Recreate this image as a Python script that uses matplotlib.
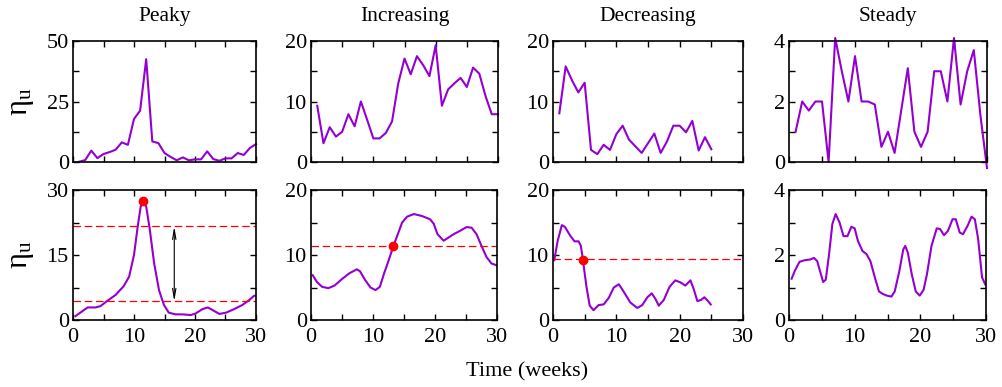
import numpy as np
import matplotlib
matplotlib.use("Agg")
import matplotlib.pyplot as plt
from matplotlib.ticker import MultipleLocator

plt.rcParams['font.family'] = ['Liberation Serif', 'DejaVu Serif']
plt.rcParams['mathtext.fontset'] = 'custom'
plt.rcParams['mathtext.rm'] = 'Liberation Serif'
plt.rcParams['mathtext.it'] = 'Liberation Serif'

# ---------------- data ----------------
titles = ["Peaky", "Increasing", "Decreasing", "Steady"]

weeks30 = list(range(1, 31))
weeks25 = list(range(1, 26))

peaky_raw = [0.1, 0.8, 4.7, 1.6, 3.3, 4.1, 5.1, 8.1, 7.1, 17.8, 21.2, 42.5, 8.5, 7.8,
             3.7, 2.1, 0.7, 1.9, 0.7, 1.1, 1.1, 4.4, 1.2, 0.5, 1.5, 1.5, 3.7, 2.9, 5.8, 7.4]
incr_raw = [9.3, 3.1, 5.75, 4.2, 5.0, 7.9, 5.9, 10.0, 7.0, 3.9, 3.9, 4.8, 6.7, 13.0,
            17.1, 14.5, 17.5, 16.0, 14.2, 19.3, 9.3, 12.0, 13.0, 13.9, 12.4, 15.6, 14.6,
            10.9, 7.9, 7.9]
decr_raw = [8.05, 15.8, 13.5, 11.5, 13.1, 2.0, 1.3, 2.85, 2.0, 4.6, 6.0, 3.7, 2.6, 1.5,
            3.1, 4.7, 1.5, 3.4, 6.0, 6.0, 4.9, 6.8, 1.9, 4.1, 2.1]
steady_raw = [1.0, 2.0, 1.7, 2.0, 2.0, 0.0, 4.1, 3.0, 2.0, 3.5, 2.0, 2.0, 1.9, 0.5, 1.0,
              0.3, 1.7, 3.1, 1.0, 0.5, 1.0, 3.0, 3.0, 2.0, 4.1, 1.9, 3.0, 3.7, 1.55, -0.2]

peaky_t = [0.4, 1.2, 2.4, 3.7, 4.5, 5.6, 7.0, 8.3, 9.2, 10.0, 10.6, 11.1, 11.5, 12.0,
           12.6, 13.3, 14.1, 14.9, 15.7, 16.8, 17.9, 19.3, 20.1, 21.2, 22.1, 23.0, 24.0,
           25.1, 26.4, 27.8, 28.9, 29.7, 30.0]
peaky_s = [0.9, 1.7, 2.9, 2.9, 3.2, 4.4, 5.8, 7.8, 10.0, 15.0, 21.5, 26.2, 27.3, 26.2,
           20.8, 13.1, 6.9, 3.5, 1.7, 1.3, 1.3, 1.15, 1.5, 2.5, 2.9, 2.2, 1.4,
           1.7, 2.5, 3.5, 4.6, 5.6, 5.6]

incr_t = [0.27, 1.0, 1.8, 2.8, 3.8, 5.0, 6.2, 7.4, 7.9, 8.7, 9.6, 10.4, 11.1, 11.8,
          12.5, 13.3, 14.0, 14.7, 15.5, 16.6, 17.9, 19.2, 19.8, 20.4, 21.4, 22.2, 23.0,
          24.0, 25.1, 25.9, 26.7, 27.5, 28.3, 29.1, 30.0]
incr_s = [6.9, 5.8, 5.1, 4.9, 5.3, 6.3, 7.2, 7.8, 7.5, 6.2, 5.0, 4.6, 5.1, 7.2,
          9.1, 11.4, 13.2, 15.0, 15.9, 16.3, 16.0, 15.5, 14.8, 13.2, 12.2, 12.7, 13.2,
          13.7, 14.3, 14.2, 13.2, 11.4, 9.7, 8.7, 8.4]

decr_t = [0.2, 0.74, 1.4, 1.9, 2.7, 3.4, 4.05, 4.4, 4.7, 5.3, 5.8, 6.4, 7.2, 8.0, 8.8,
          9.6, 10.4, 11.2, 12.2, 13.3, 14.1, 14.9, 15.6, 16.2, 16.7, 17.5, 18.4, 19.3,
          20.1, 20.9, 21.7, 22.2, 22.8, 23.4, 23.9, 24.4, 24.9]
decr_s = [9.2, 12.2, 14.6, 14.3, 13.0, 12.1, 12.1, 11.4, 9.4, 5.0, 2.2, 1.5, 2.3, 2.4, 3.4,
          5.0, 5.5, 4.3, 2.7, 1.85, 2.3, 3.5, 4.1, 3.2, 2.2, 3.1, 5.1, 6.1,
          5.8, 5.3, 6.1, 4.8, 2.9, 3.1, 3.5, 3.0, 2.4]

steady_t = [0.4, 0.9, 1.6, 2.4, 3.2, 3.8, 4.3, 4.8, 5.2, 5.6, 6.1, 6.6, 7.1, 7.7, 8.3,
            8.9, 9.5, 10.0, 10.5, 11.2, 11.8, 12.4, 13.1, 13.7, 14.3, 14.9, 15.6, 16.1,
            16.8, 17.4, 17.7, 18.1, 18.7, 19.3, 19.9, 20.5, 21.0, 21.7, 22.5, 23.0,
            23.6, 24.2, 24.9, 25.4, 26.0, 26.5, 27.2, 27.8, 28.3, 28.8, 29.4, 29.9]
steady_s = [1.27, 1.52, 1.79, 1.84, 1.86, 1.91, 1.81, 1.45, 1.17, 1.24, 2.02, 2.95, 3.26,
            3.0, 2.58, 2.58, 2.87, 2.82, 2.43, 2.12, 2.03, 1.81, 1.29, 0.88, 0.80, 0.75,
            0.72, 0.88, 1.5, 2.17, 2.28, 2.07, 1.4, 0.88, 0.75, 0.93, 1.4, 2.28, 2.82,
            2.8, 2.61, 2.74, 3.1, 3.1, 2.69, 2.64, 2.9, 3.18, 3.1, 2.5, 1.31, 1.09]

# annotations
peaky_peak = (11.5, 27.5)
peaky_hi, peaky_lo = 21.6, 4.3
peaky_arrow_x = 16.6
incr_thr = 11.4
incr_cross = (13.3, 11.4)
decr_thr = 9.4
decr_cross = (4.75, 9.3)

ylims = [50, 20, 20, 4]
ymajor_top = [25, 10, 10, 2]
ylims_bot = [30, 20, 20, 4]
ymajor_bot = [15, 10, 10, 2]

# ---------------- layout ----------------
W, H = 1002, 387
fig = plt.figure(figsize=(W / 100, H / 100), dpi=100)

xpix_top = [(73, 256), (311, 498), (553, 743), (789, 987)]
xpix_bot = [(73, 256), (311, 497), (553, 743), (789, 986)]
ytop = (41, 162)
ybot = (190, 320)

def mkax(xp, yp):
    return fig.add_axes([xp[0] / W, 1 - yp[1] / H, (xp[1] - xp[0]) / W, (yp[1] - yp[0]) / H])

purple = '#9400D3'
FS = 16

def style(ax, ymax, ymaj, xlabels):
    ax.set_xlim(0, 30)
    ax.set_ylim(0, ymax)
    ax.xaxis.set_major_locator(MultipleLocator(10))
    ax.xaxis.set_minor_locator(MultipleLocator(5))
    ax.yaxis.set_major_locator(MultipleLocator(ymaj))
    ax.yaxis.set_minor_locator(MultipleLocator(ymaj / 2))
    ax.tick_params(which='both', direction='in', top=True, right=True, length=4, width=1)
    ax.tick_params(axis='y', labelsize=FS, pad=3)
    ax.tick_params(axis='x', labelsize=FS, pad=6, labelbottom=xlabels)
    for s in ax.spines.values():
        s.set_linewidth(1.2)

top_data = [(weeks30, peaky_raw), (weeks30, incr_raw), (weeks25, decr_raw), (weeks30, steady_raw)]
bot_data = [(peaky_t, peaky_s), (incr_t, incr_s), (decr_t, decr_s), (steady_t, steady_s)]

for i in range(4):
    ax = mkax(xpix_top[i], ytop)
    t, v = top_data[i]
    ax.plot(t, v, color=purple, lw=1.5, clip_on=False)
    style(ax, ylims[i], ymajor_top[i], False)
    cx = (xpix_top[i][0] + xpix_top[i][1]) / 2 / W
    fig.text(cx, 1 - 21 / H, titles[i], ha='center', va='baseline', fontsize=15.5)

    axb = mkax(xpix_bot[i], ybot)
    t, v = bot_data[i]
    axb.plot(t, v, color=purple, lw=1.5)
    style(axb, ylims_bot[i], ymajor_bot[i], True)

    if i == 0:
        for y in (peaky_hi, peaky_lo):
            axb.axhline(y, color='red', lw=0.9, dashes=(6, 3))
        axb.plot(*peaky_peak, 'o', color='red', ms=6, clip_on=False, zorder=5)
        axb.annotate('', xy=(peaky_arrow_x, peaky_lo), xytext=(peaky_arrow_x, peaky_hi),
                     arrowprops=dict(arrowstyle='<->,head_length=0.7,head_width=0.12',
                                     lw=0.8, color='black', shrinkA=0, shrinkB=0))
    elif i == 1:
        axb.axhline(incr_thr, color='red', lw=0.9, dashes=(6, 3))
        axb.plot(*incr_cross, 'o', color='red', ms=6, zorder=5)
    elif i == 2:
        axb.axhline(decr_thr, color='red', lw=0.9, dashes=(6, 3))
        axb.plot(*decr_cross, 'o', color='red', ms=6, zorder=5)

ylab = r'$\mathrm{\eta_u}$'
fig.text(22 / W, 1 - 102 / H, ylab, rotation=90, ha='center', va='center', fontsize=22)
fig.text(22 / W, 1 - 255 / H, ylab, rotation=90, ha='center', va='center', fontsize=22)
fig.text(527 / W, 1 - 376 / H, 'Time (weeks)', ha='center', va='baseline', fontsize=FS)

fig.savefig('out.png', dpi=100)
